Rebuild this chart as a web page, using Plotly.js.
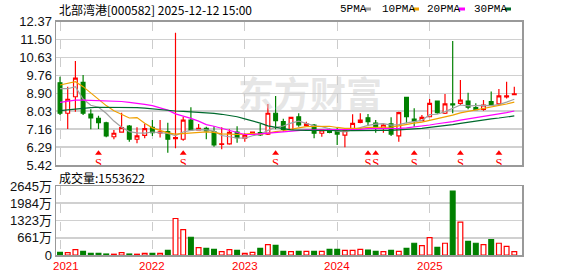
<!DOCTYPE html>
<html>
<head>
<meta charset="utf-8">
<script src="https://cdn.plot.ly/plotly-3.0.1.min.js"></script>
<style>html,body{margin:0;padding:0;background:#fff;}#chart{width:578px;height:276px;}</style>
</head>
<body>
<div id="chart"></div>
<script>
const months = ['2021-01','2021-02','2021-03','2021-04','2021-05','2021-06','2021-07','2021-08','2021-09','2021-10','2021-11','2021-12',
'2022-01','2022-02','2022-03','2022-04','2022-05','2022-06','2022-07','2022-08','2022-09','2022-10','2022-11','2022-12',
'2023-01','2023-02','2023-03','2023-04','2023-05','2023-06','2023-07','2023-08','2023-09','2023-10','2023-11','2023-12',
'2024-01','2024-02','2024-03','2024-04','2024-05','2024-06','2024-07','2024-08','2024-09','2024-10','2024-11','2024-12',
'2025-01','2025-02','2025-03','2025-04','2025-05','2025-06','2025-07','2025-08','2025-09','2025-10','2025-11','2025-12'];

const openP  = [9.41,7.93,8.73,9.43,7.89,7.68,7.47,6.79,7.01,7.31,6.67,6.86,
                7.25,6.98,7.04,6.70,6.67,7.60,7.12,7.20,7.04,6.42,6.44,7.02,
                6.72,6.91,6.99,6.92,7.93,7.52,7.15,7.76,7.33,7.36,6.96,7.12,
                7.07,6.87,7.12,7.49,7.71,7.45,7.20,7.41,6.83,8.70,7.65,7.57,
                7.76,8.52,7.93,8.38,8.41,8.52,8.20,8.12,8.49,8.38,8.72,8.83];
const highP  = [9.70,9.22,10.46,9.78,8.12,7.81,7.52,7.12,7.96,7.36,7.25,7.41,
                7.60,7.60,7.47,11.84,7.76,8.22,7.41,7.28,7.30,7.25,7.15,7.30,
                6.96,7.05,7.41,8.38,8.77,7.66,7.76,7.93,7.52,7.41,7.15,7.20,
                7.25,7.20,7.88,7.93,7.89,7.60,7.45,7.73,8.00,8.72,8.17,7.85,
                8.62,8.52,8.86,11.43,9.54,8.93,8.41,8.57,8.98,9.11,9.46,9.22];
const lowP   = [7.85,7.17,8.00,7.85,7.15,7.17,6.76,6.67,7.01,6.55,6.47,6.72,
                6.83,6.75,6.02,6.23,6.60,7.09,7.09,6.67,6.31,6.18,6.40,6.50,
                6.55,6.88,6.83,6.87,7.15,7.04,7.12,7.28,7.30,6.72,6.79,6.96,
                6.39,6.28,7.09,7.45,7.31,6.99,6.99,6.83,6.55,7.45,7.28,7.55,
                7.73,7.90,7.89,7.93,8.33,8.12,8.09,8.05,8.28,8.33,8.65,8.82];
const closeP = [7.93,8.61,9.63,7.93,7.71,7.47,6.83,6.96,7.23,6.67,6.83,7.18,
                6.99,7.03,6.67,6.75,7.60,7.12,7.20,7.07,6.39,6.45,7.00,6.75,
                6.87,7.01,6.88,7.93,7.57,7.15,7.73,7.36,7.41,6.96,7.12,7.00,
                6.92,7.12,7.44,7.60,7.52,7.28,7.36,6.92,7.96,7.76,7.55,7.73,
                8.41,7.96,8.38,8.33,8.57,8.22,8.10,8.33,8.33,8.77,8.77,8.87];

const ma5  = [9.12,9.12,9.22,8.62,8.32,8.22,7.93,7.55,7.25,7.04,6.98,6.97,
              7.02,7.00,6.95,6.85,7.02,7.10,7.14,7.12,7.06,6.85,6.80,6.73,
              6.72,6.84,6.90,7.10,7.25,7.31,7.45,7.55,7.44,7.32,7.28,7.17,
              7.06,7.02,7.12,7.22,7.34,7.40,7.43,7.35,7.38,7.46,7.51,7.58,
              7.86,7.88,8.01,8.16,8.33,8.29,8.31,8.31,8.30,8.35,8.47,8.61];
const ma10 = [9.30,9.38,9.46,9.22,8.90,8.60,8.30,8.05,7.88,7.70,7.72,7.44,
              7.22,7.10,6.98,6.92,6.95,6.98,7.00,7.03,7.00,6.93,6.92,6.90,
              6.92,6.95,6.90,6.98,7.04,7.08,7.16,7.22,7.28,7.28,7.30,7.30,
              7.24,7.20,7.20,7.20,7.24,7.24,7.26,7.26,7.32,7.40,7.45,7.50,
              7.58,7.65,7.75,7.84,7.95,8.02,8.08,8.14,8.22,8.28,8.38,8.47];
const ma20 = [8.46,8.52,8.57,8.57,8.56,8.55,8.55,8.53,8.50,8.46,8.42,8.36,
              8.30,8.20,8.08,7.90,7.80,7.68,7.55,7.38,7.30,7.20,7.10,6.98,
              6.90,6.90,6.93,6.96,7.00,7.04,7.07,7.10,7.12,7.12,7.12,7.12,
              7.12,7.12,7.13,7.15,7.18,7.18,7.17,7.18,7.20,7.22,7.26,7.30,
              7.36,7.42,7.46,7.52,7.60,7.66,7.72,7.76,7.82,7.88,7.96,8.04];
const ma30 = [8.06,8.10,8.14,8.18,8.20,8.22,8.22,8.22,8.22,8.21,8.20,8.18,
              8.14,8.10,8.07,8.04,8.02,8.00,7.97,7.94,7.92,7.88,7.82,7.76,
              7.66,7.56,7.45,7.32,7.24,7.18,7.12,7.10,7.10,7.10,7.09,7.09,
              7.08,7.08,7.09,7.10,7.10,7.10,7.10,7.10,7.12,7.14,7.18,7.20,
              7.24,7.28,7.32,7.38,7.44,7.50,7.56,7.60,7.66,7.70,7.75,7.80];

// volume in 万 (10k shares)
const volume = [103,90,205,141,64,64,38,30,90,38,30,64,
                64,64,180,1399,975,680,282,257,218,128,205,180,
                64,103,257,398,372,141,128,141,141,141,141,218,
                218,180,180,218,192,141,128,180,141,257,450,359,
                667,295,450,2450,1257,526,450,398,590,450,334,128];

const sMarkIdx = [5,16,28,40,41,46,52,57];
const priceTicks = [5.42,6.29,7.16,8.03,8.90,9.76,10.63,11.50,12.37];
const volTicks = [0,661,1323,1984,2645];
const volTickText = ['0','661万','1323万','1984万','2645万'];
const yearLabels = ['2021','2022','2023','2024','2025'];
const yearIdx = [0,12,24,36,48];

const RED = '#ff0000', GREEN = '#008000';
const isUp = closeP.map((c,i)=> c >= openP[i]);

const traces = [];
traces.push({type:'candlestick', x: months, open: openP, high: highP, low: lowP, close: closeP,
  xaxis:'x', yaxis:'y', hoverinfo:'skip', whiskerwidth:0,
  increasing:{line:{color:RED,width:1.2}, fillcolor:'#ffffff'},
  decreasing:{line:{color:GREEN,width:1.2}, fillcolor:GREEN}, showlegend:false});
const maDefs = [[ma5,'#a0a0a0'],[ma10,'#f0a000'],[ma20,'#ff00ff'],[ma30,'#006a2e']];
maDefs.forEach(([arr,col])=>{
  traces.push({type:'scatter', mode:'lines', x: months, y: arr, xaxis:'x', yaxis:'y',
    line:{color:col,width:1.2}, hoverinfo:'skip', showlegend:false});
});
traces.push({type:'scatter', mode:'markers+text', x: sMarkIdx.map(i=>months[i]), y: sMarkIdx.map(()=>5.99),
  xaxis:'x', yaxis:'y', marker:{symbol:'triangle-up', size:6, color:RED}, text: sMarkIdx.map(()=> 'S'),
  textposition:'bottom center', textfont:{family:'Liberation Serif, serif', size:12.5, color:RED},
  hoverinfo:'skip', showlegend:false, cliponaxis:false});
traces.push({type:'bar', x: months, y: volume, xaxis:'x2', yaxis:'y2', width:0.62,
  marker:{color: isUp.map(u=> u ? '#ffffff' : GREEN), line:{color: isUp.map(u=> u ? RED : GREEN), width:1.2}},
  hoverinfo:'skip', showlegend:false});

const W = 466; // plot width px
const px = p => (p - 56) / W;
const py = p => 1 - p / 276;

const annotations = [
  {xref:'paper', yref:'paper', x: px(57), y: py(9), xanchor:'left', yanchor:'middle', showarrow:false,
   text:'北部湾港[000582] 2025-12-12 15:00', font:{family:'Noto Sans CJK SC', size:12, color:'#000'}},
  {xref:'paper', yref:'paper', x: px(57), y: py(177.5), xanchor:'left', yanchor:'middle', showarrow:false,
   text:'成交量:1553622', font:{family:'Noto Sans CJK SC', size:12, color:'#000'}},
  {xref:'x', yref:'y', x: 32.5, y: 8.95, xanchor:'center', yanchor:'middle', showarrow:false,
   text:'<b>东方财富</b>', font:{family:'Noto Sans CJK SC', size:36, color:'rgba(205,205,205,0.5)'}}
];
const legendNames = ['5PMA','10PMA','20PMA','30PMA'];
const legendX = [338,380,425,472];
const swatchX = [365,413,459,505];
legendNames.forEach((n,i)=>{
  annotations.push({xref:'paper', yref:'paper', x: px(legendX[i]), y: py(9), xanchor:'left', yanchor:'middle',
    showarrow:false, text:n, font:{family:'Liberation Mono, monospace', size:11, color:'#000'}});
});
yearLabels.forEach((t,i)=>{
  annotations.push({xref:'x2', yref:'paper', x: yearIdx[i], y: py(266), xanchor:'center', yanchor:'middle',
    xshift: i===0 ? 6 : 0, showarrow:false, text:t, font:{family:'Liberation Sans, Arial', size:11.5, color:RED}});
});
const shapes = swatchX.map((sx,i)=>({type:'rect', xref:'paper', yref:'paper', x0:px(sx), x1:px(sx+6), y0:py(10.5), y1:py(7.5),
  line:{width:0}, fillcolor: maDefs[i][1]}));

const xr = [-0.52, 60.0];
const layout = {
  width:578, height:276, margin:{l:56,r:56,t:0,b:0}, paper_bgcolor:'#fff', plot_bgcolor:'#fff',
  showlegend:false, dragmode:false,
  xaxis:{type:'category', domain:[0,1], anchor:'y', range:xr, rangeslider:{visible:false},
    tickvals: yearIdx.map(i=>months[i]), showticklabels:false, ticks:'', showgrid:true, gridcolor:'#cccccc',
    griddash:'dash', gridwidth:1, showline:true, mirror:true, linecolor:'#999', linewidth:1.5, zeroline:false, fixedrange:true},
  yaxis:{domain:[py(165), py(21.7)], anchor:'x', range:[5.42,12.37], tickvals:priceTicks,
    ticktext: priceTicks.map(v=>v.toFixed(2)), ticks:'', showgrid:true, gridcolor:'#d0d0d0', gridwidth:1.5,
    showline:true, mirror:true, linecolor:'#999', linewidth:1.5, zeroline:false, fixedrange:true,
    tickfont:{family:'Liberation Sans, Arial', size:13, color:'#111'}},
  xaxis2:{type:'category', domain:[0,1], anchor:'y2', range:xr, tickvals: yearIdx.map(i=>months[i]),
    showticklabels:false, ticks:'', showgrid:true, gridcolor:'#cccccc', griddash:'dash', gridwidth:1,
    showline:true, mirror:true, linecolor:'#999', linewidth:1.5, zeroline:false, fixedrange:true},
  yaxis2:{domain:[py(255), py(186)], anchor:'x2', range:[0,2645], tickvals:volTicks, ticktext:volTickText,
    ticks:'', showgrid:true, gridcolor:'#d0d0d0', gridwidth:1.5, showline:true, mirror:true, linecolor:'#999',
    linewidth:1.5, zeroline:false, fixedrange:true,
    tickfont:{family:'Liberation Sans, Noto Sans CJK SC, Arial', size:13, color:'#111'}},
  annotations: annotations, shapes: shapes, bargap:0.3
};
Plotly.newPlot('chart', traces, layout, {staticPlot:true, displayModeBar:false});
</script>
</body>
</html>
